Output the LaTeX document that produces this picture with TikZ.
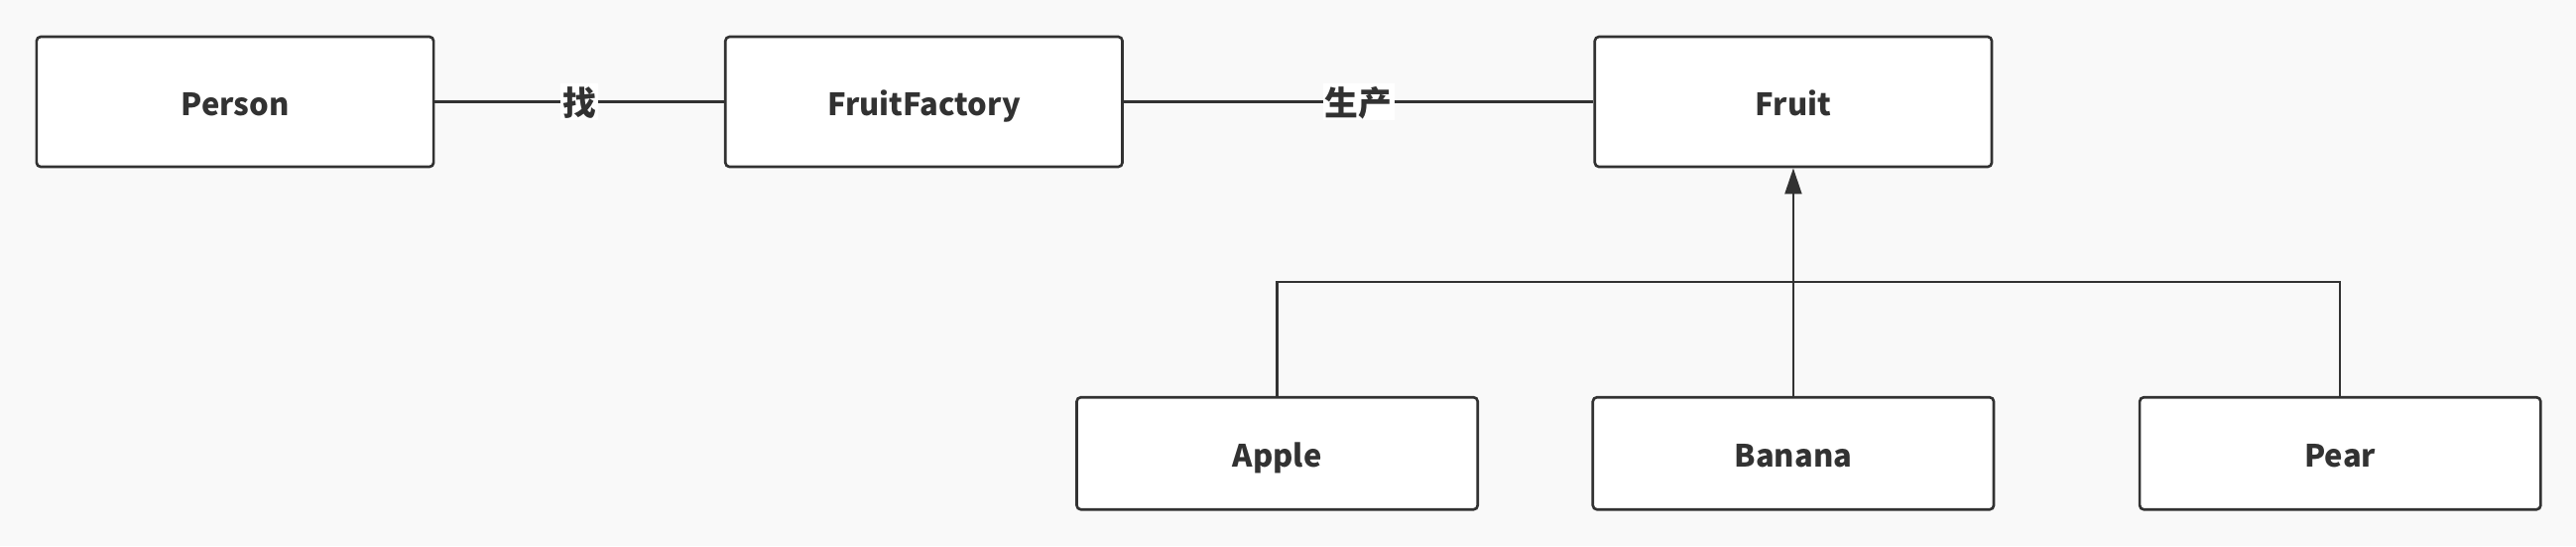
\documentclass[tikz,border=0pt]{standalone}
\usepackage{fontspec}
\setmainfont{Noto Sans CJK SC}
\usetikzlibrary{arrows.meta}
\definecolor{ink}{HTML}{323232}
\definecolor{paper}{HTML}{F9F9F9}
\begin{document}
\begin{tikzpicture}[x=0.01cm,y=-0.01cm,
    cls/.style={rectangle,rounded corners=1.2pt,draw=ink,fill=white,line width=0.75pt,
      minimum width=4cm,minimum height=1.31cm,text=ink,text height=9pt,text depth=1.3pt,
      font=\fontsize{8.8}{10}\selectfont\bfseries},
    sub/.style={cls,minimum width=4.04cm,minimum height=1.13cm},
    link/.style={draw=ink,line width=0.7pt},
    tag/.style={fill=white,inner sep=0.6pt,text=ink,text height=8.6pt,text depth=0.6pt,
      font=\fontsize{9.6}{10}\selectfont\bfseries}]
            \fill[paper] (0,0) rectangle (2597,550);
            \path (237,102.5) node[cls] (P) {Person};
            \path node[cls,right of=P,node distance=6.94cm] (FF) {FruitFactory};
            \path node[cls,right of=FF,node distance=8.76cm] (F) {Fruit};
            \path node[sub,below of=F,node distance=3.54cm] (B) {Banana};
            \path node[sub,left of=B,node distance=5.2cm] (A) {Apple};
            \path node[sub,right of=B,node distance=5.51cm] (Pe) {Pear};
            \coordinate (bar) at (1807,284);

            \begin{scope}[every node/.append style={midway}]
              \draw[link] (P) -- (FF) node[tag]{找};
              \draw[link] (FF) -- (F) node[tag]{生产};
            \end{scope}
            \draw[link] (A.north) |- (bar) -| (Pe.north);
            \draw[link,-{Triangle[width=4.8pt,length=7.4pt]}] (B) -- (F);
          \end{tikzpicture}
\end{document}
